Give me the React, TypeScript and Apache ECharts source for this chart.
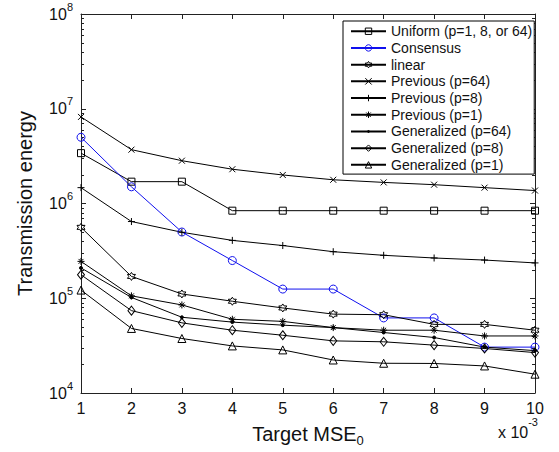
import { useEffect, useRef } from "react";
import * as echarts from "echarts";

const FONT = "'Liberation Sans', Arial, Helvetica, sans-serif";
const TXT = "#111";
const AX = "#222";

// Target MSE (in units of 1e-3)
const mse = [1, 2, 3, 4, 5, 6, 7, 8, 9, 10];

// Transmission energy per scheme
const uniform = [3.4e6, 1.7e6, 1.7e6, 8.4e5, 8.4e5, 8.4e5, 8.4e5, 8.4e5, 8.4e5, 8.4e5];
const consensus = [5.0e6, 1.5e6, 5.0e5, 2.5e5, 1.25e5, 1.25e5, 6.2e4, 6.2e4, 3.05e4, 3.05e4];
const linear = [5.6e5, 1.7e5, 1.11e5, 9.3e4, 7.9e4, 6.8e4, 6.7e4, 5.3e4, 5.3e4, 4.6e4];
const previous64 = [8.2e6, 3.7e6, 2.83e6, 2.3e6, 2.0e6, 1.78e6, 1.67e6, 1.58e6, 1.47e6, 1.37e6];
const previous8 = [1.47e6, 6.45e5, 4.97e5, 4.08e5, 3.6e5, 3.1e5, 2.84e5, 2.66e5, 2.53e5, 2.36e5];
const previous1 = [2.45e5, 1.06e5, 8.5e4, 6.0e4, 5.7e4, 4.9e4, 4.6e4, 4.6e4, 4.0e4, 4.0e4];
const generalized64 = [2.09e5, 1.02e5, 6.3e4, 5.6e4, 5.2e4, 4.9e4, 4.35e4, 3.85e4, 3.05e4, 2.8e4];
const generalized8 = [1.77e5, 7.4e4, 5.5e4, 4.6e4, 4.07e4, 3.55e4, 3.47e4, 3.2e4, 2.95e4, 2.67e4];
const generalized1 = [1.22e5, 4.8e4, 3.76e4, 3.14e4, 2.85e4, 2.23e4, 2.06e4, 2.05e4, 1.93e4, 1.58e4];

// Log axis range and decade ticks
const decades = [1e4, 1e5, 1e6, 1e7, 1e8];
const minorMultipliers = [2, 3, 4, 5, 6, 7, 8, 9];

// MATLAB-like marker shapes
const MARK = {
  square: "rect",
  circle: "circle",
  hexagram:
    "path://M50,0L64.43,25L93.3,25L78.87,50L93.3,75L64.43,75L50,100L35.57,75L6.7,75L21.13,50L6.7,25L35.57,25Z",
  cross: "path://M0,0L10,10M10,0L0,10",
  plus: "path://M5,0L5,10M0,5L10,5",
  star: "path://M5,0L5,10M0,5L10,5M1.5,1.5L8.5,8.5M8.5,1.5L1.5,8.5",
  point: "path://M0,0M10,10M3.5,5A1.5,1.5,0,1,1,6.5,5A1.5,1.5,0,1,1,3.5,5Z",
  diamond: "diamond",
  triangle: "triangle",
};

const HOLLOW = "rgba(0,0,0,0)";

function line(
  name: string,
  values: number[],
  symbol: string,
  size: number | number[],
  color = "#000",
  fill = HOLLOW
) {
  return {
    name,
    type: "line",
    data: mse.map((x, i) => [x, values[i]]),
    symbol,
    symbolSize: size,
    showSymbol: true,
    silent: true,
    lineStyle: { color, width: 1 },
    itemStyle: { color: fill, borderColor: color, borderWidth: 1 },
    emphasis: { disabled: true },
    z: 3,
  };
}

export default function App() {
  const ref = useRef<HTMLDivElement>(null);

  useEffect(() => {
    if (!ref.current) return;
    const chart = echarts.init(ref.current, null, { renderer: "svg" });

    const series: any[] = [
      line("Uniform (p=1, 8, or 64)", uniform, MARK.square, 7),
      line("Consensus", consensus, MARK.circle, 8, "#1010ee"),
      line("linear", linear, MARK.hexagram, 8),
      line("Previous (p=64)", previous64, MARK.cross, 6),
      line("Previous (p=8)", previous8, MARK.plus, 7),
      line("Previous (p=1)", previous1, MARK.star, 7),
      line("Generalized (p=64)", generalized64, MARK.point, 10, "#000", "#000"),
      line("Generalized (p=8)", generalized8, MARK.diamond, [7, 9]),
      line("Generalized (p=1)", generalized1, MARK.triangle, 8),
    ];

    // log-axis minor ticks (2..9 x 10^n) drawn on both y edges
    const minorValues: number[][] = [];
    for (let d = 0; d < decades.length - 1; d++) {
      minorMultipliers.forEach((m) => minorValues.push([mse[0], m * decades[d]]));
    }
    series.push({
      type: "custom",
      name: "minor-ticks",
      silent: true,
      z: 1,
      data: minorValues,
      encode: { x: 0, y: 1 },
      renderItem: (params: any, api: any) => {
        const pt = api.coord([api.value(0), api.value(1)]);
        const cs = params.coordSys;
        const left = cs.x;
        const right = cs.x + cs.width;
        const y = Math.round(pt[1]) + 0.5;
        const style = { stroke: AX, lineWidth: 1 };
        return {
          type: "group",
          children: [
            { type: "line", shape: { x1: left, y1: y, x2: left + 3, y2: y }, style },
            { type: "line", shape: { x1: right - 3, y1: y, x2: right, y2: y }, style },
          ],
        };
      },
    });

    const axisLine = { show: true, lineStyle: { color: AX, width: 1 } };
    const tick = { show: true, inside: true, length: 5, lineStyle: { color: AX } };

    chart.setOption({
      animation: false,
      backgroundColor: "#fff",
      textStyle: { fontFamily: FONT },
      grid: { left: 81, right: 24, top: 14, bottom: 59, containLabel: false },
      legend: {
        orient: "vertical",
        left: 343,
        top: 21,
        padding: [2, 2, 1, 7],
        itemWidth: 35,
        itemHeight: 8,
        itemGap: 0.2,
        backgroundColor: "#fff",
        borderColor: "#000",
        borderWidth: 1,
        borderRadius: 0,
        selectedMode: false,
        textStyle: { fontSize: 14, color: TXT, fontFamily: FONT, lineHeight: 16.5 },
        data: series
          .filter((s) => s.type === "line")
          .map((s) => ({
            name: s.name,
            itemStyle: { color: s.itemStyle.color, borderColor: s.itemStyle.borderColor, borderWidth: 1 },
          })),
      },
      xAxis: [
        {
          type: "value",
          min: 1,
          max: 10,
          interval: 1,
          position: "bottom",
          axisLine,
          axisTick: tick,
          splitLine: { show: false },
          axisLabel: { fontSize: 16, color: TXT, fontFamily: FONT, margin: 7 },
          name: "Target MSE{sub|0}",
          nameLocation: "middle",
          nameGap: 28,
          nameTextStyle: {
            fontSize: 20,
            color: TXT,
            fontFamily: FONT,
            lineHeight: 26,
            rich: {
              sub: { fontSize: 13, lineHeight: 13, verticalAlign: "bottom", color: TXT, fontFamily: FONT },
            },
          },
        },
        {
          type: "value",
          min: 1,
          max: 10,
          interval: 1,
          position: "top",
          axisLine,
          axisTick: tick,
          splitLine: { show: false },
          axisLabel: { show: false },
        },
      ],
      yAxis: [
        {
          type: "log",
          logBase: 10,
          min: decades[0],
          max: decades[decades.length - 1],
          position: "left",
          axisLine,
          axisTick: tick,
          splitLine: { show: false },
          axisLabel: {
            margin: 8,
            formatter: (v: number) => `{b|10}{s|${Math.round(Math.log10(v))}}`,
            rich: {
              b: { fontSize: 16, lineHeight: 26, color: TXT, fontFamily: FONT },
              s: { fontSize: 11, lineHeight: 11, verticalAlign: "top", color: TXT, fontFamily: FONT },
            },
          },
          name: "Transmission energy",
          nameLocation: "middle",
          nameGap: 46,
          nameTextStyle: { fontSize: 20, color: TXT, fontFamily: FONT },
        },
        {
          type: "log",
          logBase: 10,
          min: decades[0],
          max: decades[decades.length - 1],
          position: "right",
          axisLine,
          axisTick: tick,
          splitLine: { show: false },
          axisLabel: { show: false },
        },
      ],
      graphic: [
        {
          type: "text",
          right: 21,
          top: 416.5,
          style: {
            text: "{a|x 10}{s|-3}",
            fill: TXT,
            rich: {
              a: { fontSize: 16, lineHeight: 32, fontFamily: FONT, fill: TXT },
              s: { fontSize: 11, lineHeight: 11, verticalAlign: "top", fontFamily: FONT, fill: TXT },
            },
          },
        },
      ],
      series,
    });

    return () => chart.dispose();
  }, []);

  return (
    <div
      ref={ref}
      style={{ position: "fixed", left: 0, top: 0, width: 559, height: 452 }}
    />
  );
}
